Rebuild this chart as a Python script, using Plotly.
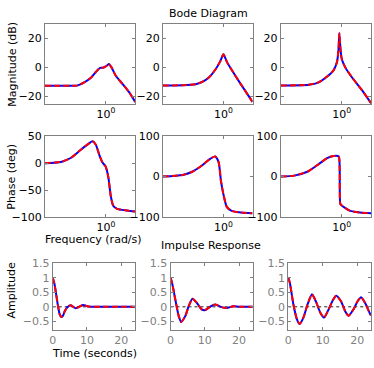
import plotly.graph_objects as go

W, H = 374, 368

# ---------------- data ----------------
# Bode, system 1
w_mag1 = [0.01, 0.091, 0.12, 0.195, 0.324, 0.468, 0.646, 0.794, 0.912, 1.096, 1.259, 1.514, 2.138, 3.548, 5.754, 9.12]
mag1 = [-12.5, -12.5, -12.3, -10.2, -7.1, -3.1, -0.3, -0.2, 0.3, 1.3, 2.4, 0.2, -5.9, -11.4, -16.9, -23.6]
w_ph1 = [0.01, 0.0339, 0.0724, 0.151, 0.282, 0.363, 0.468, 0.603, 0.776, 0.977, 1.202, 1.445, 1.738, 2.344, 5.012, 9.12]
ph1 = [0, 2.3, 10, 25, 36.8, 40.5, 34, 16, 1, -6, -26, -61, -79, -85, -88, -90]
# Bode, system 2
w_mag2 = [0.01, 0.0447, 0.12, 0.2, 0.324, 0.537, 0.776, 1.0, 1.288, 1.862, 3.467, 9.12]
mag2 = [-12.4, -12.2, -11.5, -9.9, -7.1, -1.6, 4, 9, 4, -1.6, -10.4, -23.6]
w_ph2 = [0.01, 0.0447, 0.0933, 0.2, 0.363, 0.537, 0.692, 0.832, 1.0, 1.288, 1.862, 3.89, 9.12]
ph2 = [0, 4, 12, 28, 44, 50, 36, -12, -44, -75, -85, -89, -91]
# Bode, system 3
w_mag3 = [0.01, 0.0832, 0.174, 0.324, 0.537, 0.692, 0.776, 0.832, 0.902, 1.0, 1.288, 2.089, 4.467, 9.12]
mag3 = [-12.4, -11.9, -10.2, -6.4, -2, 3.5, 11.3, 23.4, 13.4, 5.7, 0.2, -6.4, -15.2, -24.5]
w_ph3 = [0.01, 0.0275, 0.0741, 0.155, 0.331, 0.537, 0.794, 0.851, 0.891, 0.955, 1.148, 1.905, 3.981, 9.12]
ph3 = [0, 2.4, 12, 28, 46, 51, 50, 24, -67, -70, -75, -85, -89, -91]
# Impulse responses
t1 = [0, 0.5, 1.0, 1.5, 2.0, 2.5, 3.0, 3.5, 4.2, 5.3, 6.7, 8.8, 10.5, 12, 16, 20, 24]
h1 = [1.0, 0.78, 0.42, 0.05, -0.25, -0.35, -0.3, -0.15, -0.02, 0.05, -0.05, 0.06, 0.01, 0, 0, 0, 0]
t2 = [0, 0.5, 1.4, 2.4, 3.1, 4.3, 5.3, 6.4, 7.7, 9.1, 10.0, 11.5, 13.0, 14.9, 16.4, 18.3, 20, 24]
h2 = [1.0, 0.8, 0.25, -0.32, -0.52, -0.32, 0.02, 0.28, 0.13, -0.09, -0.12, 0, 0.08, -0.01, -0.04, 0.02, 0, 0]
t3 = [0, 0.5, 1.5, 2.5, 3.3, 4.4, 5.6, 6.9, 8.0, 9.3, 10.4, 11.7, 13.0, 13.9, 15.3, 16.5, 17.5, 18.9, 20.1, 21.1, 22.3, 23.8, 24]
h3 = [1.0, 0.8, 0.08, -0.42, -0.59, -0.37, 0.08, 0.43, 0.19, -0.2, -0.37, -0.09, 0.24, 0.38, 0.19, -0.15, -0.31, -0.09, 0.19, 0.33, 0.13, -0.26, -0.28]

mag_ticks = [-20, 0, 20]
ph_ticks_a = [-100, -50, 0, 50]
ph_ticks_b = [-100, 0, 100]
imp_yticks = [-0.5, 0, 0.5, 1, 1.5]
imp_xticks = [0, 10, 20]

# ---------------- layout helpers ----------------
def xd(a, b):
    return [a / W, b / W]

def yd(top, bottom):
    return [1 - bottom / H, 1 - top / H]

cols12 = [(41.3, 132.6), (160.6, 251.2), (279.8, 371)]
cols3 = [(49.3, 132.3), (168.3, 251.5), (287.3, 371)]
rows = [(18.3, 101.5), (135, 218.7), (266.5, 336)]

FONT = "DejaVu Sans"
FRAME = "#808080"
TS = 11

fig = go.Figure()

panels = [
    (w_mag1, mag1), (w_mag2, mag2), (w_mag3, mag3),
    (w_ph1, ph1), (w_ph2, ph2), (w_ph3, ph3),
    (t1, h1), (t2, h2), (t3, h3),
]

layout = {}
for i, (xs, ys) in enumerate(panels):
    n = i + 1
    r, c = divmod(i, 3)
    xname = "x" if n == 1 else f"x{n}"
    yname = "y" if n == 1 else f"y{n}"
    shape = "spline"
    if r == 2:
        fig.add_trace(go.Scatter(x=[0, 24], y=[0, 0], mode="lines",
                                 line=dict(color="#222222", width=1, dash="dot"),
                                 xaxis=xname, yaxis=yname, showlegend=False, hoverinfo="skip"))
    fig.add_trace(go.Scatter(x=xs, y=ys, mode="lines",
                             line=dict(color="#0000ff", width=2, shape=shape, smoothing=0.6),
                             xaxis=xname, yaxis=yname, showlegend=False))
    fig.add_trace(go.Scatter(x=xs, y=ys, mode="lines",
                             line=dict(color="#ff0000", width=2, dash="6px,3px", shape=shape, smoothing=0.6),
                             xaxis=xname, yaxis=yname, showlegend=False))

    common = dict(showline=True, linecolor=FRAME, linewidth=1, mirror="ticks",
                  ticks="inside", ticklen=3, tickcolor=FRAME, showgrid=False,
                  zeroline=False, tickfont=dict(family=FONT, size=TS, color="black"))
    if r < 2:
        xa = dict(common, type="log", range=[-2, 0.96], tickvals=[1],
                  ticktext=["10<sup>0</sup>"], domain=xd(*cols12[c]), anchor=yname)
    else:
        xa = dict(common, range=[0, 24], tickvals=imp_xticks, domain=xd(*cols3[c]), anchor=yname)
        xa["tickfont"] = dict(family=FONT, size=TS, color="#808080")
    if r == 0:
        ya = dict(common, range=[-25, 30], tickvals=mag_ticks)
    elif r == 1:
        if c == 0:
            ya = dict(common, range=[-100, 50], tickvals=ph_ticks_a)
        else:
            ya = dict(common, range=[-100, 100], tickvals=ph_ticks_b)
    else:
        ya = dict(common, range=[-0.8, 1.5], tickvals=imp_yticks,
                  ticktext=["\u22120.5", "0", "0.5", "1", "1.5"])
        ya["tickfont"] = dict(family=FONT, size=TS, color="#808080")
    ya["domain"] = yd(*rows[r])
    ya["anchor"] = xname
    layout["xaxis" if n == 1 else f"xaxis{n}"] = xa
    layout["yaxis" if n == 1 else f"yaxis{n}"] = ya

def ann(text, x, y, angle=0):
    return dict(text=text, x=x / W, y=1 - y / H, xref="paper", yref="paper",
                showarrow=False, textangle=angle, xanchor="center", yanchor="middle",
                font=dict(family=FONT, size=11, color="black"))

annotations = [
    ann("Bode Diagram", 207, 8),
    ann("Impulse Response", 209, 248),
    ann("Frequency (rad/s)", 90, 242),
    ann("Time (seconds)", 91.5, 360),
    ann("Magnitude (dB)", 9, 60, -90),
    ann("Phase (deg)", 8, 177, -90),
    ann("Amplitude", 8, 294, -90),
]

fig.update_layout(width=W, height=H, margin=dict(l=0, r=0, t=0, b=0),
                  plot_bgcolor="white", paper_bgcolor="white",
                  annotations=annotations, showlegend=False, **layout)

fig.write_html("out.html", config={"displayModeBar": False},
               post_script="document.body.style.margin='0';document.body.style.overflow='hidden';")
